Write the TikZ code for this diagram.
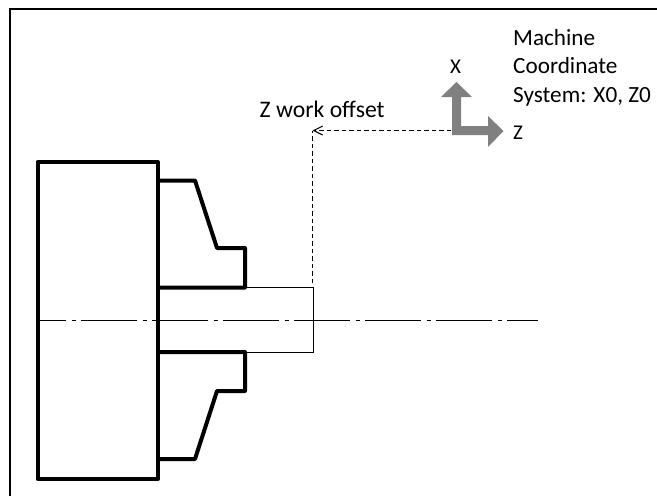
\documentclass[tikz,border=0pt]{standalone}
\usepackage{fontspec}
\setmainfont{Carlito}
\usetikzlibrary{arrows.meta}
\tikzset{
  heavy/.style={line width=4pt,line join=round,black},
  thin part/.style={line width=1pt,black},
  centre/.style={line width=1pt,dash pattern=on 56pt off 5.5pt on 4.5pt off 5pt,dash phase=28pt},
  offset/.style={line width=1.1pt,dash pattern=on 4.5pt off 3pt},
  lbl/.style={inner sep=0pt,font=\fontsize{23.2}{28.5}\selectfont,text=black},
  wide lbl/.style={inner sep=0pt,font=\fontsize{23.7}{28.5}\selectfont,text=black},
  axlbl/.style={inner sep=0pt,font=\fontsize{21}{24}\selectfont,text=black},
  axis/.style={fill=black!50,draw=none}
}
\begin{document}
\begin{tikzpicture}[x=1pt,y=-1pt]
\useasboundingbox (0,0) rectangle (657,496);
\draw[line width=2.2pt] (10,496) -- (10,9) -- (657,9);
% body
\coordinate (bodyA) at (37.5,162);
\coordinate (bodyB) at (158,479);
\draw[heavy] (bodyA) rectangle (bodyB);
% jaws
\draw[heavy] (158,180.5) -- (195,180.5) -- (217,248) -- (245,248) -- (245,287.5) -- (158,287.5);
\draw[heavy] (158,352) -- (245,352) -- (245,391) -- (217,391) -- (195,459) -- (158,459);
% part
\coordinate (partT) at (313.5,287.5);
\coordinate (partB) at (313.5,352.5);
\draw[thin part] (245,287.5) -- (partT) -- (partB) -- (245,352.5);
% centre line
\coordinate (cl) at (38,320.5);
\coordinate (cr) at (538,320.5);
\draw[centre] (cl) -- (cr);
% axes
\fill[axis] (452,135) -- (452,97) -- (441,97) -- (456.5,82) -- (472,97) -- (461,97) -- (461,126) -- (488,126) -- (488,116) -- (503.5,131) -- (488,147) -- (488,135) -- cycle;
% offset leader
\coordinate (origin) at (451,130.5);
\coordinate (corner) at (312.5,130.5);
\coordinate (foot) at (312.5,283);
\draw[offset] (foot) -- (corner);
\draw[offset,-{Straight Barb[length=9pt,width=9pt,line width=1.1pt]}] (origin) -- (corner);
% labels
\node[wide lbl,anchor=base west] (zwo) at (259.5,117) {Z work offset};
\node[axlbl,anchor=center] (xl) at (455.5,66.5) {X};
\node[axlbl,anchor=center] (zl) at (518,133) {Z};
\node[lbl,anchor=base west] (m1) at (513,45) {Machine};
\node[lbl,anchor=base west] (m2) at (513,73.5) {Coordinate};
\node[lbl,anchor=base west] (m3) at (513,102) {System: X0, Z0};
\end{tikzpicture}
\end{document}
